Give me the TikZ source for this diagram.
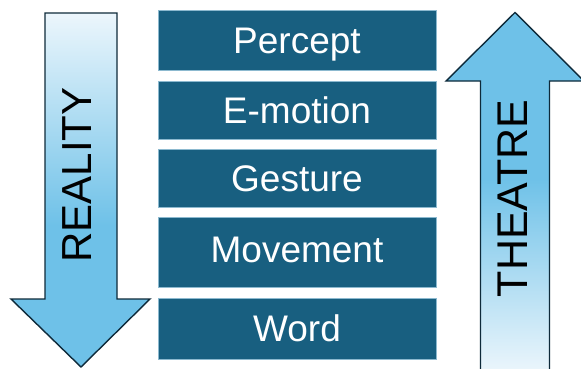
\documentclass[tikz,border=0pt]{standalone}
\usepackage{fontspec}
\setmainfont{Liberation Sans}
\definecolor{boxfill}{RGB}{24,95,128}
\definecolor{boxedge}{RGB}{140,185,207}
\definecolor{arrowmid}{RGB}{110,193,232}
\definecolor{arrowlight}{RGB}{236,246,252}
\definecolor{arrowedge}{RGB}{14,42,58}
% shading for the downward arrow: pale at the top, full blue lower down
\pgfdeclareverticalshading{downshade}{100bp}{color(0bp)=(arrowmid); color(25bp)=(arrowmid); color(45bp)=(arrowmid); color(75bp)=(arrowlight); color(100bp)=(arrowlight)}
% shading for the upward arrow: full blue at the head, pale at the foot
\pgfdeclareverticalshading{upshade}{100bp}{color(0bp)=(arrowlight); color(25bp)=(arrowlight); color(52bp)=(arrowmid); color(75bp)=(arrowmid); color(100bp)=(arrowmid)}
\tikzset{
  levelbox/.style={draw=boxedge, line width=0.8pt, fill=boxfill, text=white,
    minimum width=278pt, inner sep=0pt, font=\fontsize{37}{41}\selectfont,
    text height=26.5pt, text depth=0pt},
  bigarrow/.style={draw=arrowedge, line width=1.4pt, line join=miter},
  arrowlabel/.style={rotate=90, inner sep=0pt, text height=30pt, text depth=0pt}
}
\begin{document}
\begin{tikzpicture}[x=1pt,y=1pt]
\clip (0,0) rectangle (581,368);
\fill[white] (0,0) rectangle (581,368);

% left arrow pointing down
\draw[bigarrow, shading=downshade]
  (45,355) -- (117,355) -- (117,69) -- (150,69) -- (81,1) -- (11,69) -- (45,69) -- cycle;
\node[arrowlabel, font=\fontsize{42}{46}\selectfont] (reality) at (76,193) {REALITY};

% right arrow pointing up
\draw[bigarrow, shading=upshade]
  (480.5,-5) -- (480.5,287) -- (446,287) -- (515,355.5) -- (584,287) -- (549.5,287) -- (549.5,-5) -- cycle;
\node[arrowlabel, font=\fontsize{43}{47}\selectfont] (theatre) at (512.5,169.5) {THEATRE};

% stacked levels
\node[levelbox, minimum height=60pt, text depth=-2pt]  (percept)  at (297,328)   {Percept};
\node[levelbox, minimum height=58pt, text depth=-5.5pt](emotion)  at (297,258)   {E-motion};
\node[levelbox, minimum height=58pt, text depth=-5pt]  (gesture)  at (297,190)   {Gesture};
\node[levelbox, minimum height=70pt, text depth=6.5pt] (movement) at (297,116)   {Movement};
\node[levelbox, minimum height=61pt, text depth=0pt]   (word)     at (297,39.5)  {Word};
\end{tikzpicture}
\end{document}
